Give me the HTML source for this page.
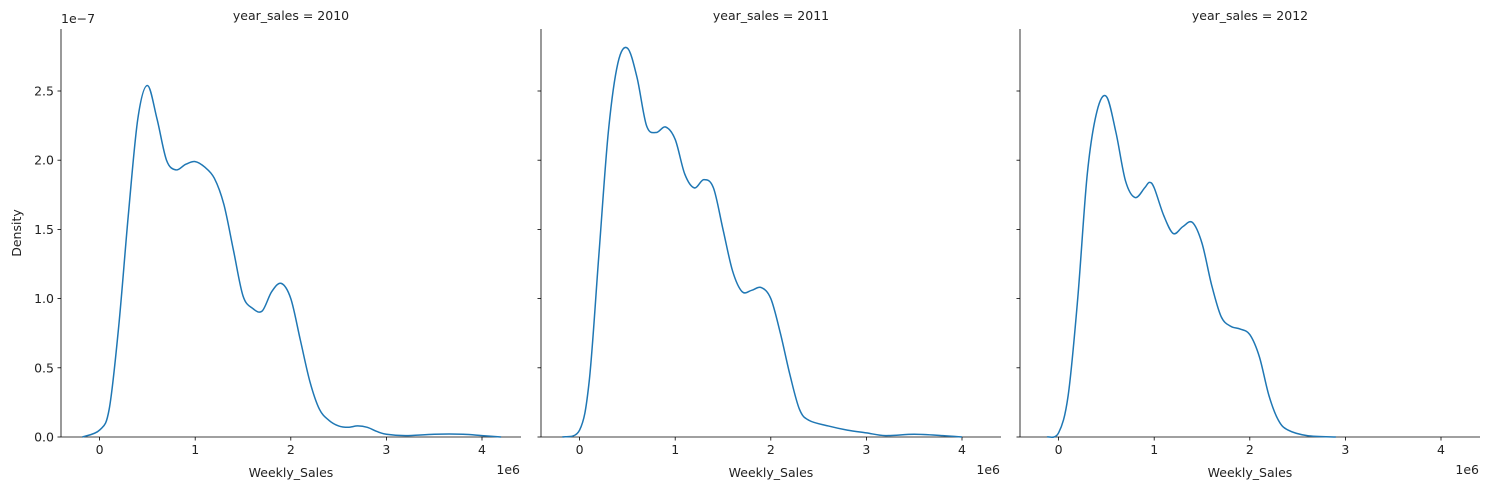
<!DOCTYPE html>
<html><head><meta charset="utf-8"><style>
body{margin:0;background:#fff;}
svg text{font-family:"DejaVu Sans","Liberation Sans",sans-serif;font-size:12.5px;fill:#222;}
</style></head><body>
<svg id="chart" width="1489" height="490" xmlns="http://www.w3.org/2000/svg"></svg>
<script>
const years = ["2010","2011","2012"];
const xTicks = [0,1,2,3,4];
const yTicks = [0,0.5,1.0,1.5,2.0,2.5];
const xs2010 = [-0.18,0,0.1,0.2,0.3,0.4,0.5,0.6,0.7,0.8,0.9,1.0,1.1,1.2,1.3,1.4,1.5,1.6,1.7,1.8,1.9,2.0,2.1,2.2,2.3,2.4,2.5,2.6,2.7,2.8,2.9,3.0,3.2,3.5,3.8,4.0,4.2];
const ys2010 = [0,0.05,0.2,0.8,1.6,2.3,2.54,2.3,2.0,1.93,1.97,1.99,1.95,1.87,1.68,1.35,1.02,0.93,0.91,1.05,1.11,1.0,0.7,0.4,0.2,0.12,0.08,0.07,0.08,0.07,0.04,0.02,0.01,0.02,0.02,0.01,0];
const xs2011 = [-0.18,0,0.1,0.2,0.3,0.4,0.5,0.6,0.7,0.8,0.9,1.0,1.1,1.2,1.3,1.4,1.5,1.6,1.7,1.8,1.9,2.0,2.1,2.2,2.3,2.4,2.6,2.8,3.0,3.2,3.5,3.8,4.0];
const ys2011 = [0,0.05,0.4,1.3,2.2,2.7,2.81,2.6,2.25,2.2,2.24,2.15,1.9,1.8,1.86,1.8,1.5,1.2,1.05,1.06,1.08,1.0,0.75,0.45,0.2,0.12,0.08,0.05,0.03,0.01,0.02,0.01,0];
const xs2012 = [-0.12,0,0.1,0.2,0.3,0.4,0.5,0.6,0.7,0.8,0.9,0.95,1.0,1.1,1.2,1.3,1.4,1.5,1.6,1.7,1.8,1.9,2.0,2.1,2.2,2.3,2.4,2.6,2.9];
const ys2012 = [0,0.03,0.3,1.0,1.9,2.35,2.46,2.2,1.85,1.73,1.8,1.84,1.8,1.6,1.47,1.52,1.55,1.4,1.1,0.87,0.8,0.78,0.74,0.58,0.3,0.12,0.05,0.01,0];
const seriesX=[xs2010,xs2011,xs2012], seriesY=[ys2010,ys2011,ys2012];

const svg=document.getElementById('chart');
const NS="http://www.w3.org/2000/svg";
function mk(t,a,p){const e=document.createElementNS(NS,t);for(const k in a)e.setAttribute(k,a[k]);(p||svg).appendChild(e);return e;}
const panelL=[61,541,1020], W=460, plotTop=29, plotBottom=437;
const x0off=38.6, unit=95.6, yUnit=138.4;
function yS(v){return plotBottom - v*yUnit;}
years.forEach((yr,i)=>{
  const L=panelL[i];
  const xS=v=>L+x0off+v*unit;
  const g=mk('g',{});
  
  
  const t=mk('text',{x:L+W/2,y:20,'text-anchor':'middle'},g);t.textContent='year_sales = '+yr;
  
  
  mk('line',{x1:L,y1:plotTop,x2:L,y2:plotBottom,stroke:'#000','stroke-width':0.8},g);
  mk('line',{x1:L,y1:plotBottom,x2:L+W,y2:plotBottom,stroke:'#000','stroke-width':0.8},g);
  xTicks.forEach(v=>{
    mk('line',{x1:xS(v),y1:plotBottom,x2:xS(v),y2:plotBottom+3.5,stroke:'#000','stroke-width':0.8},g);
    const tt=mk('text',{x:xS(v),y:plotBottom+17,'text-anchor':'middle'},g);tt.textContent=v;
    
    
  });
  yTicks.forEach(v=>{
    mk('line',{x1:L-3.5,y1:yS(v),x2:L,y2:yS(v),stroke:'#000','stroke-width':0.8},g);
    if(i===0){const tt=mk('text',{x:L-7,y:yS(v)+4.5,'text-anchor':'end'},g);tt.textContent=v.toFixed(1);
      
      }
  });
  const xl=mk('text',{x:L+W/2,y:477,'text-anchor':'middle'},g);xl.textContent='Weekly_Sales';
  
  
  const ex=mk('text',{x:L+W-1,y:474,'text-anchor':'end'},g);ex.textContent='1e6';
  
  
  const X=seriesX[i],Y=seriesY[i];
  const P=X.map((v,k)=>[xS(v),yS(Y[k])]);
  let d='M'+P[0][0]+','+P[0][1];
  for(let k=0;k<P.length-1;k++){
    const p0=P[k-1]||P[k],p1=P[k],p2=P[k+1],p3=P[k+2]||P[k+1];
    const c1=[p1[0]+(p2[0]-p0[0])/6,p1[1]+(p2[1]-p0[1])/6];
    const c2=[p2[0]-(p3[0]-p1[0])/6,p2[1]-(p3[1]-p1[1])/6];
    d+=` C${c1[0]},${c1[1]} ${c2[0]},${c2[1]} ${p2[0]},${p2[1]}`;
  }
  const path=mk('path',{d:d,fill:'none',stroke:'#1f77b4','stroke-width':1.5},g);
  
  
});
const yl=mk('text',{x:21,y:233,'text-anchor':'middle',transform:'rotate(-90 21 233)'});yl.textContent='Density';


const ye=mk('text',{x:61,y:23,'text-anchor':'start'});ye.textContent='1e\u22127';


</script>
</body></html>
